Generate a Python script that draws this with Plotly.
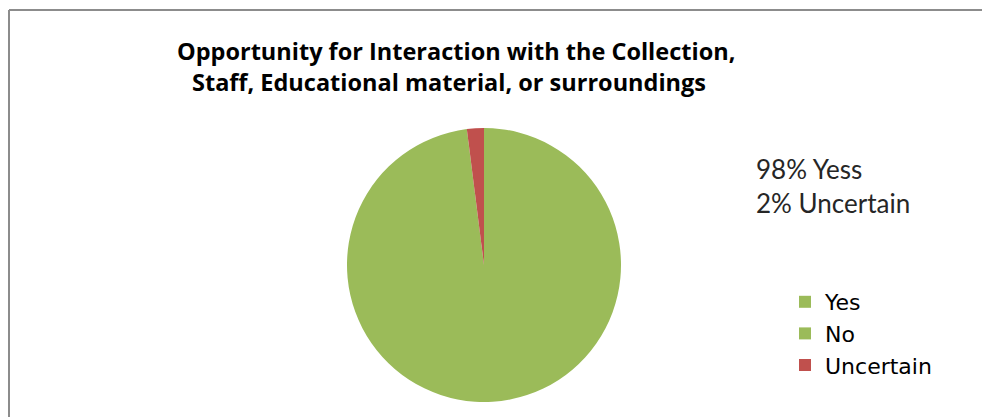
import plotly.graph_objects as go

# Survey responses (percent)
categories = ["Yes", "No", "Uncertain"]
values = [98, 0, 2]
colors = ["#9BBB59", "#9BBB59", "#C0504D"]

title_lines = [
    "Opportunity for Interaction with the Collection,",
    "Staff, Educational material, or surroundings",
]
note_lines = ["98% Yess", "2% Uncertain"]

W, H = 982, 417

fig = go.Figure(
    go.Pie(
        labels=categories,
        values=values,
        marker=dict(colors=colors, line=dict(width=0)),
        sort=False,
        direction="clockwise",
        rotation=0,
        textinfo="none",
        hoverinfo="label+percent",
        domain=dict(x=[347 / W, 621 / W], y=[1 - 402 / H, 1 - 128 / H]),
    )
)

# title lines, each centred on its own x position
title_x = [456, 449]
title_y = [33, 64]
title_annots = [
    dict(
        text="<b>" + line + "</b>",
        x=cx / W,
        y=1 - cy / H,
        xref="paper",
        yref="paper",
        xanchor="center",
        yanchor="top",
        showarrow=False,
        font=dict(family="Open Sans", size=23.5, color="black"),
    )
    for line, cx, cy in zip(title_lines, title_x, title_y)
]

fig.update_layout(
    width=W,
    height=H,
    margin=dict(l=0, r=0, t=0, b=0),
    paper_bgcolor="white",
    showlegend=True,
    legend=dict(
        x=785 / W,
        y=1 - 281 / H,
        xanchor="left",
        yanchor="top",
        font=dict(family="DejaVu Sans", size=22, color="black"),
        bgcolor="rgba(0,0,0,0)",
        tracegroupgap=0,
    ),
    annotations=title_annots + [
        dict(
            text="<br>".join(note_lines),
            x=754 / W,
            y=1 - 151 / H,
            xref="paper",
            yref="paper",
            xanchor="left",
            yanchor="top",
            showarrow=False,
            align="left",
            font=dict(family="Lato", size=26, color="#262626"),
        ),
    ],
    shapes=[
        # chart area frame (top and left edges fall inside the page)
        dict(type="line", xref="paper", yref="paper",
             x0=9 / W, x1=1.02, y0=1 - 10 / H, y1=1 - 10 / H,
             line=dict(color="#8C8C8C", width=2)),
        dict(type="line", xref="paper", yref="paper",
             x0=9 / W, x1=9 / W, y0=1 - 10 / H, y1=-0.05,
             line=dict(color="#8C8C8C", width=2)),
    ],
)

fig.write_html("out.html")
